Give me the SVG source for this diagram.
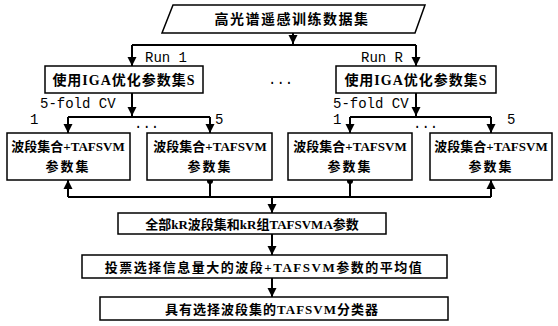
<svg xmlns="http://www.w3.org/2000/svg" width="558" height="326" viewBox="0 0 558 326">
<defs>
<marker id="ah" viewBox="0 0 10 10" refX="10" refY="5" markerWidth="9" markerHeight="10" markerUnits="userSpaceOnUse" orient="auto"><path d="M0,0 L10,5 L0,10 Z" fill="#000"/></marker>
</defs>
<style>
.box{fill:#fff;stroke:#000;stroke-width:1.5}
.ln{fill:none;stroke:#000;stroke-width:2}
.t{font-family:"Liberation Serif","Noto Sans CJK SC",serif;font-size:14px;font-weight:bold;fill:#000;text-anchor:middle}
.m{font-family:"Liberation Mono","Noto Sans CJK SC",monospace;font-size:14px;fill:#000}
.dot{fill:#000}
</style>
<rect width="558" height="326" fill="#fff"/>
<g id="connectors">
<path class="ln" d="M293,33 V44" marker-end="url(#ah)"/>
<path class="ln" d="M132,45 H416"/>
<path class="ln" d="M132,45 V66" marker-end="url(#ah)"/>
<path class="ln" d="M416,45 V66" marker-end="url(#ah)"/>
<path class="ln" d="M132,93 V116" marker-end="url(#ah)"/>
<path class="ln" d="M68,117 H210"/>
<path class="ln" d="M68,117 V133" marker-end="url(#ah)"/>
<path class="ln" d="M210,117 V133" marker-end="url(#ah)"/>
<path class="ln" d="M416,93 V116" marker-end="url(#ah)"/>
<path class="ln" d="M350,117 H491"/>
<path class="ln" d="M350,117 V133" marker-end="url(#ah)"/>
<path class="ln" d="M491,117 V133" marker-end="url(#ah)"/>
<path class="ln" d="M68,197 H491"/>
<path class="ln" d="M68,197 V180" marker-end="url(#ah)"/>
<path class="ln" d="M491,197 V180" marker-end="url(#ah)"/>
<path class="ln" d="M210,180 V197"/>
<path class="ln" d="M350,180 V197"/>
<circle class="dot" cx="210" cy="181" r="3"/>
<circle class="dot" cx="350" cy="181" r="3"/>
<path class="ln" d="M272,197 V213" marker-end="url(#ah)"/>
<path class="ln" d="M272,234 V255" marker-end="url(#ah)"/>
<path class="ln" d="M272,278 V297" marker-end="url(#ah)"/>
<text class="m" x="145" y="62">Run 1</text>
<text class="m" x="361" y="62">Run R</text>
<text class="m" x="40" y="108">5-fold CV</text>
<text class="m" x="333" y="108">5-fold CV</text>
<text class="m" x="30" y="124">1</text>
<text class="m" x="215" y="124">5</text>
<text class="m" x="333" y="124">1</text>
<text class="m" x="507" y="124">5</text>
<text class="m" x="268" y="84">...</text>
<text class="m" x="134" y="128">...</text>
<text class="m" x="413" y="128">...</text>
</g>
<g id="n0"><path class="box" d="M173,5 H425 L415,33 H162 Z"/><text class="t" x="292" y="24" style="letter-spacing:1.5px">高光谱遥感训练数据集</text></g>
<g id="n1"><rect class="box" x="45" y="66" width="158" height="27"/><text class="t" x="124" y="85" style="letter-spacing:1px">使用IGA优化参数集S</text></g>
<g id="n2"><rect class="box" x="336" y="66" width="160" height="27"/><text class="t" x="416" y="85" style="letter-spacing:1px">使用IGA优化参数集S</text></g>
<g id="n3"><rect class="box" x="7" y="133" width="123" height="47"/><text class="t" x="68" y="151" style="font-size:13px">波段集合+TAFSVM</text><text class="t" x="68" y="171" style="letter-spacing:2px;font-size:13px">参数集</text></g>
<g id="n4"><rect class="box" x="147" y="133" width="125" height="47"/><text class="t" x="210" y="151" style="font-size:13px">波段集合+TAFSVM</text><text class="t" x="210" y="171" style="letter-spacing:2px;font-size:13px">参数集</text></g>
<g id="n5"><rect class="box" x="288" y="133" width="124" height="47"/><text class="t" x="350" y="151" style="font-size:13px">波段集合+TAFSVM</text><text class="t" x="350" y="171" style="letter-spacing:2px;font-size:13px">参数集</text></g>
<g id="n6"><rect class="box" x="430" y="133" width="122" height="47"/><text class="t" x="491" y="151" style="font-size:13px">波段集合+TAFSVM</text><text class="t" x="491" y="171" style="letter-spacing:2px;font-size:13px">参数集</text></g>
<g id="n7"><rect class="box" x="118" y="213" width="268" height="21"/><text class="t" x="252" y="229" style="font-size:13px">全部kR波段集和kR组TAFSVMA参数</text></g>
<g id="n8"><rect class="box" x="82" y="255" width="365" height="23"/><text class="t" x="264" y="272" style="font-size:13px;letter-spacing:1.5px">投票选择信息量大的波段+TAFSVM参数的平均值</text></g>
<g id="n9"><rect class="box" x="100" y="297" width="348" height="23"/><text class="t" x="272" y="314" style="font-size:13px;letter-spacing:1px">具有选择波段集的TAFSVM分类器</text></g>
</svg>
